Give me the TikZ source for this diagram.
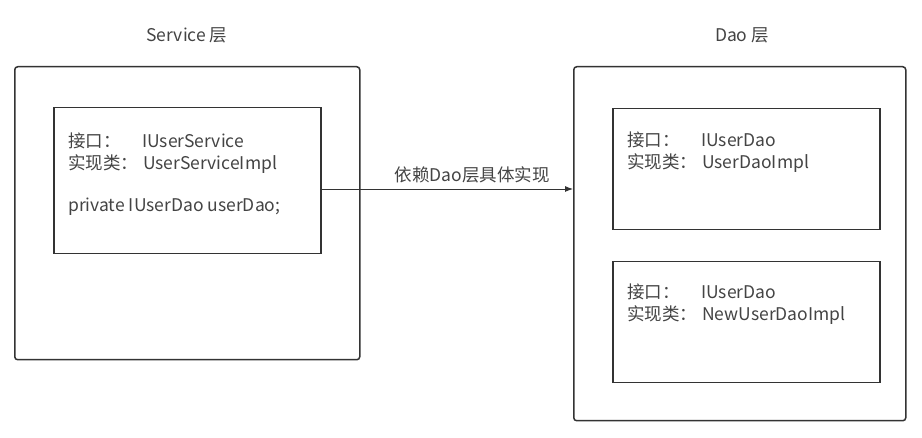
\documentclass[tikz,border=0pt]{standalone}
\usepackage{fontspec}
\newfontfamily\cjk{Noto Sans CJK SC}
\usetikzlibrary{arrows.meta}
\definecolor{linec}{HTML}{333333}
\definecolor{textc}{HTML}{444444}
\tikzset{
  outerbox/.style={draw=linec, line width=1.5pt, rounded corners=3pt, inner sep=0pt, anchor=north west},
  innerbox/.style={draw=linec, line width=1.5pt, inner sep=0pt, anchor=north west},
  txt/.style={font=\cjk\fontsize{17.5}{20}\selectfont, text=textc, inner sep=0pt, anchor=base west},
  ttl/.style={font=\cjk\fontsize{17.5}{20}\selectfont, text=textc, inner sep=0pt},
  dep/.style={draw=linec, line width=0.9pt, -{Latex[length=8pt,width=6pt]}}
}
\begin{document}
\begin{tikzpicture}[x=1pt,y=-1pt]
\useasboundingbox[fill=white] (0,0) rectangle (922,438);
% titles
\node[ttl] (svcttl) at (187,35) {Service 层};
\node[ttl] (daottl) at (742,35) {Dao 层};
% left
\node[outerbox, minimum width=345pt, minimum height=293pt] (svcout) at (14,66) {};
\node[innerbox, minimum width=267pt, minimum height=146pt] (svcin) at (53,107) {};
\node[txt] (s1a) at (68,148) {接口：};
\node[txt] (s1b) at (142,148) {IUserService};
\node[txt] (s2a) at (68,170) {实现类：};
\node[txt] (s2b) at (143,170) {UserServiceImpl};
\node[txt] (s3) at (68,212) {private IUserDao userDao;};
% right
\node[outerbox, minimum width=332pt, minimum height=354pt] (daoout) at (573,66) {};
\node[innerbox, minimum width=267pt, minimum height=121pt] (dao1) at (612,108) {};
\node[innerbox, minimum width=267pt, minimum height=121pt] (dao2) at (612,261) {};
\node[txt] (d1a) at (627,147) {接口：};
\node[txt] (d1b) at (701,147) {IUserDao};
\node[txt] (d2a) at (627,169) {实现类：};
\node[txt] (d2b) at (702,169) {UserDaoImpl};
\node[txt] (e1a) at (627,299) {接口：};
\node[txt] (e1b) at (701,299) {IUserDao};
\node[txt] (e2a) at (627,321) {实现类：};
\node[txt] (e2b) at (702,321) {NewUserDaoImpl};
% arrow
\coordinate (ay) at (0,189);
\draw[dep] (svcin.east |- ay) -- node[ttl, pos=0.6, above=5pt] (deplbl) {依赖Dao层具体实现} (daoout.west |- ay);
\end{tikzpicture}
\end{document}
